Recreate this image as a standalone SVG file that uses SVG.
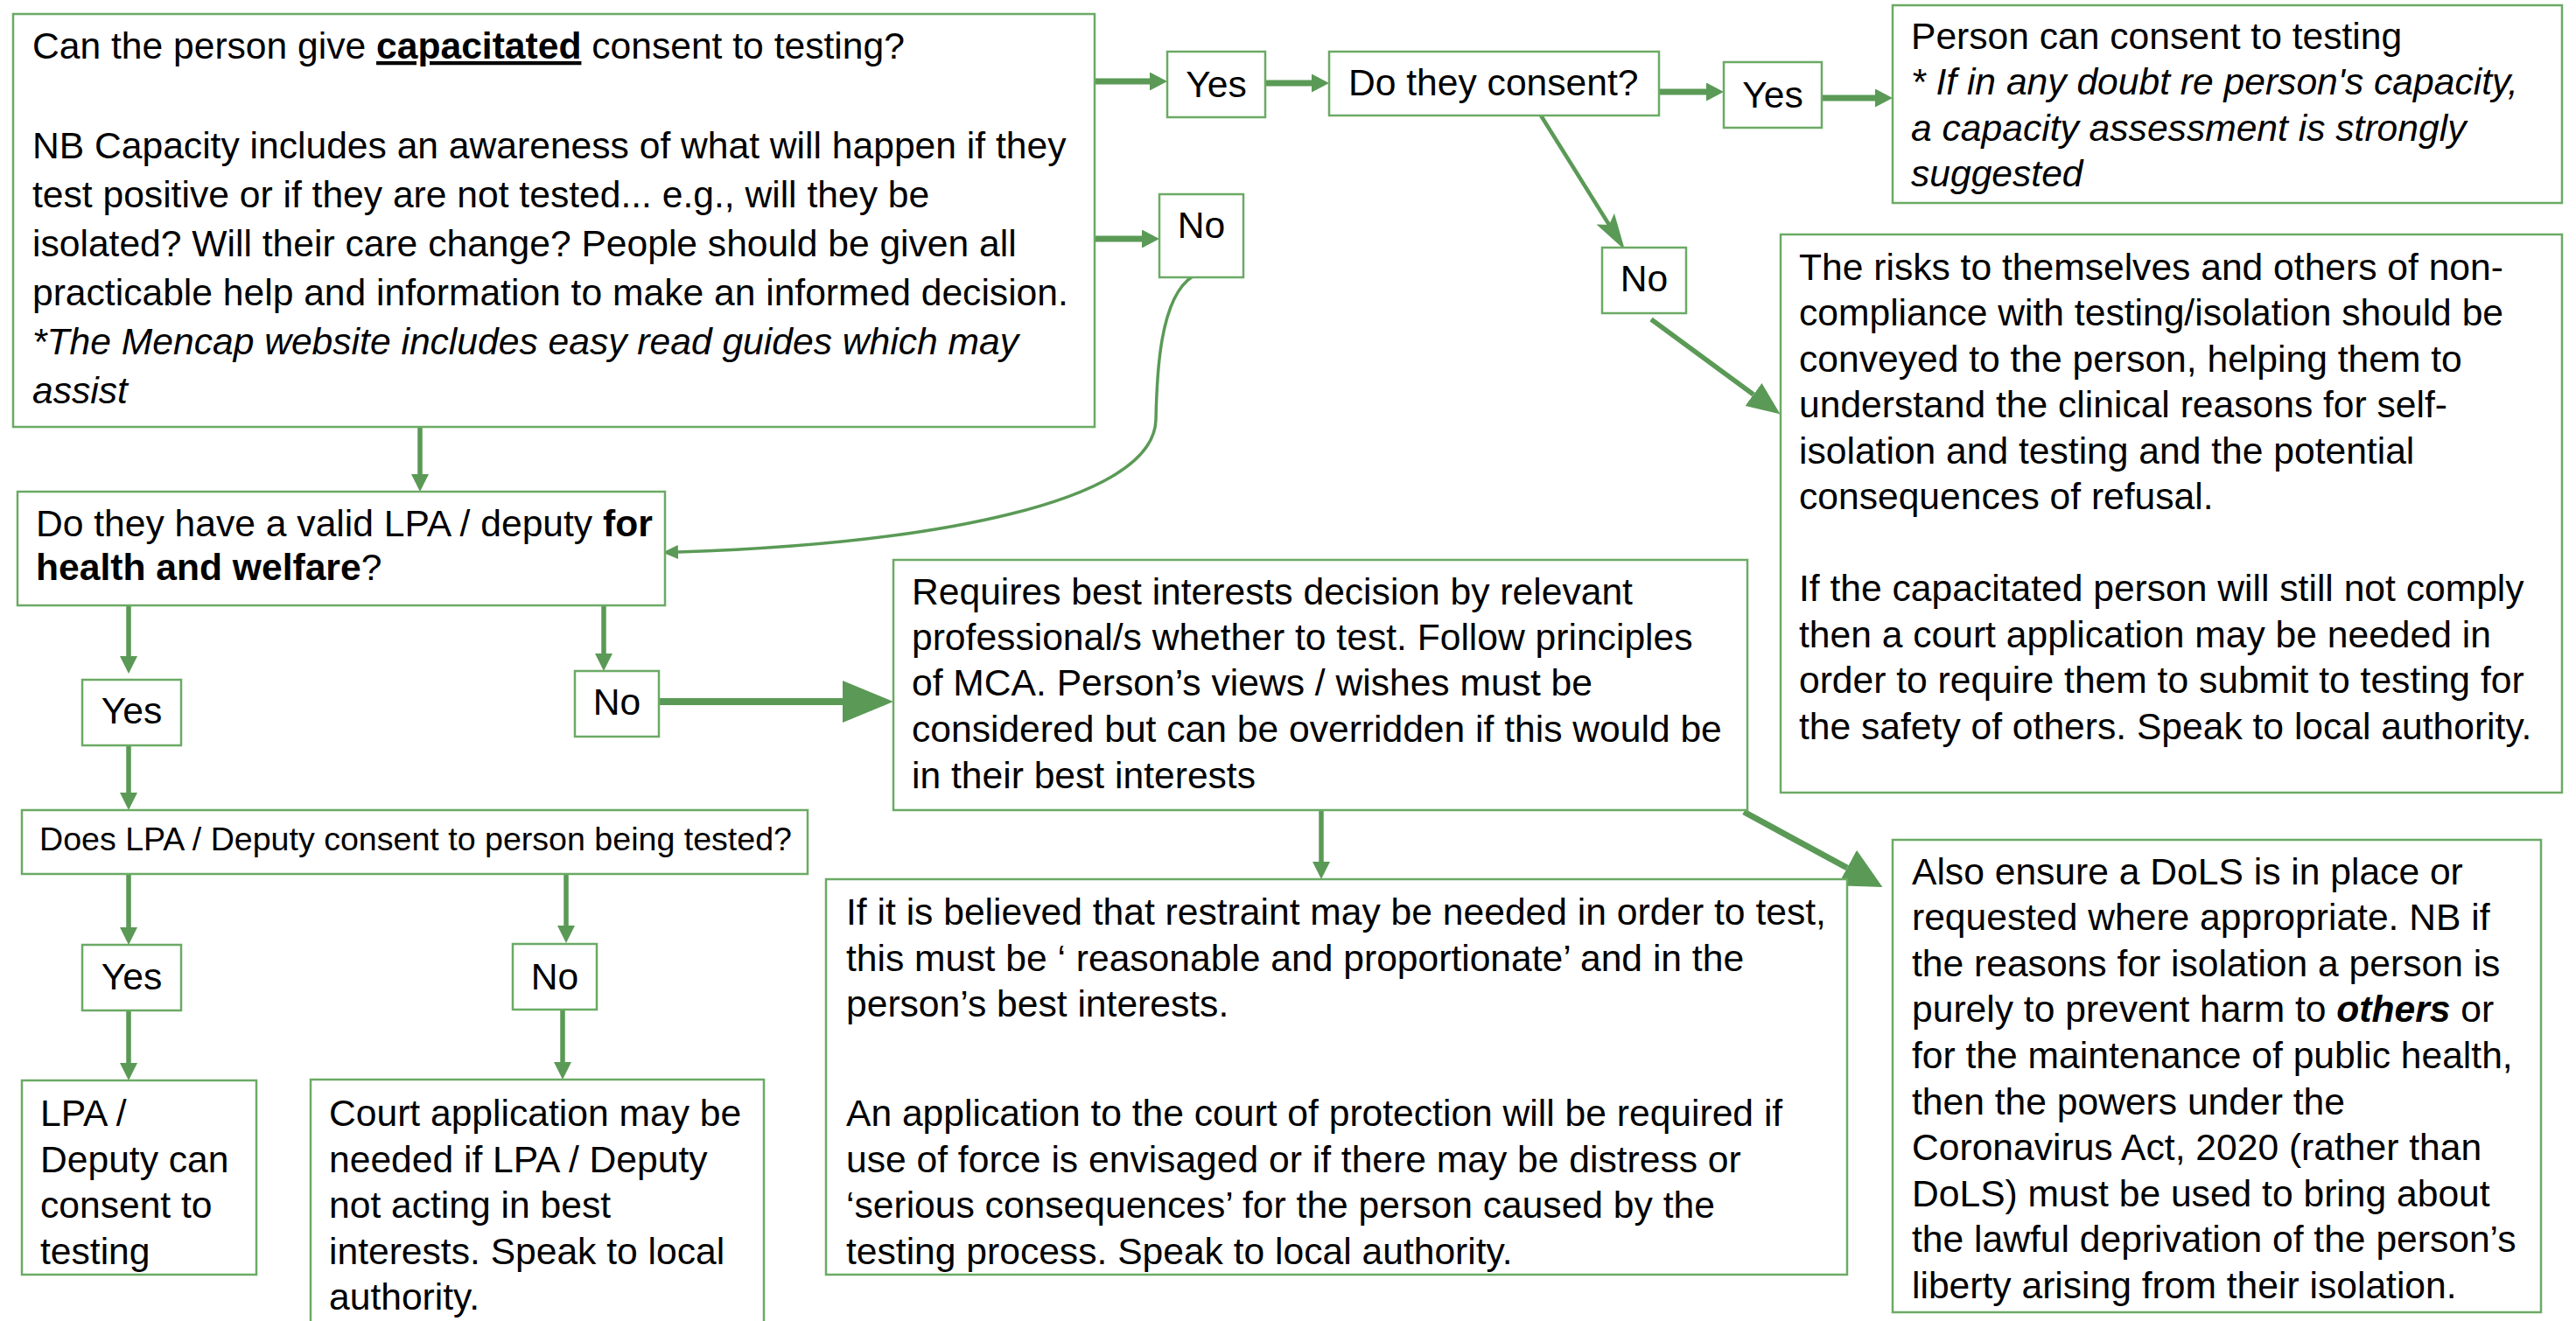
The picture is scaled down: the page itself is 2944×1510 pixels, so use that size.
<svg xmlns="http://www.w3.org/2000/svg" width="2944" height="1510" viewBox="0 0 2944 1510">
<style>
.bx{fill:#fff;stroke:#6BAA65;stroke-width:2.5}
.t{font-family:"Liberation Sans",Arial,sans-serif;font-size:42.6px;fill:#000}
.s{font-size:37.6px}
.c{stroke:#5A9A56;fill:none}
.b{font-weight:bold}
.i{font-style:italic}
</style>
<defs>
<marker id="aTop" markerUnits="userSpaceOnUse" viewBox="0 0 20 21" markerWidth="20" markerHeight="21" refX="0" refY="10.5" orient="auto"><path d="M0,0 L20,10.5 L0,21 z" fill="#5A9A56"/></marker>
<marker id="aV" markerUnits="userSpaceOnUse" viewBox="0 0 20 20" markerWidth="20" markerHeight="20" refX="0" refY="10" orient="auto"><path d="M0,0 L20,10 L0,20 z" fill="#5A9A56"/></marker>
<marker id="aBig" markerUnits="userSpaceOnUse" viewBox="0 0 58 48" markerWidth="58" markerHeight="48" refX="0" refY="24" orient="auto"><path d="M0,0 L58,24 L0,48 z" fill="#5A9A56"/></marker>
<marker id="aDols" markerUnits="userSpaceOnUse" viewBox="0 0 46 46" markerWidth="46" markerHeight="46" refX="0" refY="23" orient="auto"><path d="M0,0 L46,23 L0,46 z" fill="#5A9A56"/></marker>
<marker id="aRisk" markerUnits="userSpaceOnUse" viewBox="0 0 38 32" markerWidth="38" markerHeight="32" refX="0" refY="16" orient="auto"><path d="M0,0 L38,16 L0,32 z" fill="#5A9A56"/></marker>
<marker id="aKite" markerUnits="userSpaceOnUse" viewBox="0 0 42 24" markerWidth="42" markerHeight="24" refX="8" refY="12" orient="auto"><path d="M0,0 L42,12 L0,24 L8,12 z" fill="#5A9A56"/></marker>
<marker id="aCurve" markerUnits="userSpaceOnUse" viewBox="0 0 18 16" markerWidth="18" markerHeight="16" refX="0" refY="8" orient="auto"><path d="M0,0 L18,8 L0,16 z" fill="#5A9A56"/></marker>
</defs>

<g id="connectors">
<line class="c" x1="1251" y1="93" x2="1314" y2="93" stroke-width="7" marker-end="url(#aTop)"/>
<line class="c" x1="1251" y1="273" x2="1305" y2="273" stroke-width="7" marker-end="url(#aTop)"/>
<line class="c" x1="1446" y1="95" x2="1499" y2="95" stroke-width="7" marker-end="url(#aTop)"/>
<line class="c" x1="1896" y1="105" x2="1950" y2="105" stroke-width="7" marker-end="url(#aTop)"/>
<line class="c" x1="2082" y1="112" x2="2143" y2="112" stroke-width="7" marker-end="url(#aTop)"/>
<line class="c" x1="1761" y1="132" x2="1839" y2="257" stroke-width="4.5" marker-end="url(#aKite)"/>
<line class="c" x1="1887" y1="365" x2="2004" y2="451" stroke-width="5.5" marker-end="url(#aRisk)"/>
<path class="c" d="M1363,316 C1325,340 1322,430 1321,480 C1318,575 1060,622 775,631" stroke-width="3.5" marker-end="url(#aCurve)"/>
<line class="c" x1="480" y1="488" x2="480" y2="542" stroke-width="5.5" marker-end="url(#aV)"/>
<line class="c" x1="147" y1="692" x2="147" y2="750" stroke-width="5.5" marker-end="url(#aV)"/>
<line class="c" x1="690" y1="692" x2="690" y2="747" stroke-width="5.5" marker-end="url(#aV)"/>
<line class="c" x1="753" y1="802" x2="963" y2="802" stroke-width="8" marker-end="url(#aBig)"/>
<line class="c" x1="147" y1="852" x2="147" y2="906" stroke-width="5.5" marker-end="url(#aV)"/>
<line class="c" x1="147" y1="1000" x2="147" y2="1060" stroke-width="5.5" marker-end="url(#aV)"/>
<line class="c" x1="647" y1="1000" x2="647" y2="1058" stroke-width="5.5" marker-end="url(#aV)"/>
<line class="c" x1="147" y1="1155" x2="147" y2="1215" stroke-width="5.5" marker-end="url(#aV)"/>
<line class="c" x1="643" y1="1154" x2="643" y2="1214" stroke-width="5.5" marker-end="url(#aV)"/>
<line class="c" x1="1510" y1="926" x2="1510" y2="985" stroke-width="5.5" marker-end="url(#aV)"/>
<line class="c" x1="1993" y1="928" x2="2111" y2="992" stroke-width="7" marker-end="url(#aDols)"/>
</g>

<g id="capacity-question">
<rect class="bx" x="15" y="16" width="1236" height="472"/>
<text class="t">
<tspan x="37" y="67">Can the person give <tspan class="b" text-decoration="underline">capacitated</tspan> consent to testing?</tspan>
<tspan x="37" y="181">NB Capacity includes an awareness of what will happen if they</tspan>
<tspan x="37" y="237">test positive or if they are not tested... e.g., will they be</tspan>
<tspan x="37" y="293">isolated? Will their care change? People should be given all</tspan>
<tspan x="37" y="349">practicable help and information to make an informed decision.</tspan>
<tspan x="37" y="405" class="i">*The Mencap website includes easy read guides which may</tspan>
<tspan x="37" y="461" class="i">assist</tspan>
</text>
</g>

<g id="yes1"><rect class="bx" x="1334" y="59" width="112" height="75"/><text class="t" x="1390" y="111" text-anchor="middle">Yes</text></g>
<g id="no1"><rect class="bx" x="1325" y="222" width="96" height="95"/><text class="t" x="1373" y="272" text-anchor="middle">No</text></g>
<g id="consent-question"><rect class="bx" x="1519" y="59" width="377" height="73"/><text class="t" x="1541" y="109">Do they consent?</text></g>
<g id="yes2"><rect class="bx" x="1970" y="71" width="112" height="75"/><text class="t" x="2026" y="123" text-anchor="middle">Yes</text></g>
<g id="no2"><rect class="bx" x="1831" y="283" width="96" height="75"/><text class="t" x="1879" y="333" text-anchor="middle">No</text></g>

<g id="person-can-consent">
<rect class="bx" x="2163" y="6" width="765" height="226"/>
<text class="t">
<tspan x="2184" y="56">Person can consent to testing</tspan>
<tspan x="2184" y="108" class="i">* If in any doubt re person's capacity,</tspan>
<tspan x="2184" y="161" class="i">a capacity assessment is strongly</tspan>
<tspan x="2184" y="213" class="i">suggested</tspan>
</text>
</g>

<g id="risks">
<rect class="bx" x="2035" y="268" width="893" height="638"/>
<text class="t">
<tspan x="2056" y="320">The risks to themselves and others of non-</tspan>
<tspan x="2056" y="372">compliance with testing/isolation should be</tspan>
<tspan x="2056" y="425">conveyed to the person, helping them to</tspan>
<tspan x="2056" y="477">understand the clinical reasons for self-</tspan>
<tspan x="2056" y="530">isolation and testing and the potential</tspan>
<tspan x="2056" y="582">consequences of refusal.</tspan>
<tspan x="2056" y="687">If the capacitated person will still not comply</tspan>
<tspan x="2056" y="740">then a court application may be needed in</tspan>
<tspan x="2056" y="792">order to require them to submit to testing for</tspan>
<tspan x="2056" y="845">the safety of others. Speak to local authority.</tspan>
</text>
</g>

<g id="lpa-question">
<rect class="bx" x="20" y="562" width="740" height="130"/>
<text class="t">
<tspan x="41" y="613">Do they have a valid LPA / deputy <tspan class="b">for</tspan></tspan>
<tspan x="41" y="663"><tspan class="b">health and welfare</tspan>?</tspan>
</text>
</g>

<g id="yes3"><rect class="bx" x="94" y="777" width="113" height="75"/><text class="t" x="150.5" y="827" text-anchor="middle">Yes</text></g>
<g id="no3"><rect class="bx" x="657" y="767" width="96" height="75"/><text class="t" x="705" y="817" text-anchor="middle">No</text></g>

<g id="best-interests">
<rect class="bx" x="1021" y="640" width="976" height="286"/>
<text class="t">
<tspan x="1042" y="691">Requires best interests decision by relevant</tspan>
<tspan x="1042" y="743">professional/s whether to test. Follow principles</tspan>
<tspan x="1042" y="795">of MCA. Person’s views / wishes must be</tspan>
<tspan x="1042" y="848">considered but can be overridden if this would be</tspan>
<tspan x="1042" y="901">in their best interests</tspan>
</text>
</g>

<g id="lpa-consent-question">
<rect class="bx" x="25" y="926" width="898" height="73"/>
<text class="t s" x="45" y="972">Does LPA / Deputy consent to person being tested?</text>
</g>

<g id="yes4"><rect class="bx" x="94" y="1080" width="113" height="75"/><text class="t" x="150.5" y="1131" text-anchor="middle">Yes</text></g>
<g id="no4"><rect class="bx" x="586" y="1079" width="96" height="75"/><text class="t" x="634" y="1131" text-anchor="middle">No</text></g>

<g id="lpa-can-consent">
<rect class="bx" x="25" y="1235" width="268" height="222"/>
<text class="t">
<tspan x="46" y="1287">LPA /</tspan>
<tspan x="46" y="1340">Deputy can</tspan>
<tspan x="46" y="1392">consent to</tspan>
<tspan x="46" y="1445">testing</tspan>
</text>
</g>

<g id="court-application">
<rect class="bx" x="355" y="1234" width="518" height="290"/>
<text class="t">
<tspan x="376" y="1287">Court application may be</tspan>
<tspan x="376" y="1340">needed if LPA / Deputy</tspan>
<tspan x="376" y="1392">not acting in best</tspan>
<tspan x="376" y="1445">interests. Speak to local</tspan>
<tspan x="376" y="1497">authority.</tspan>
</text>
</g>

<g id="restraint">
<rect class="bx" x="944" y="1005" width="1167" height="452"/>
<text class="t">
<tspan x="967" y="1057">If it is believed that restraint may be needed in order to test,</tspan>
<tspan x="967" y="1110">this must be ‘ reasonable and proportionate’ and in the</tspan>
<tspan x="967" y="1162">person’s best interests.</tspan>
<tspan x="967" y="1287">An application to the court of protection will be required if</tspan>
<tspan x="967" y="1340">use of force is envisaged or if there may be distress or</tspan>
<tspan x="967" y="1392">‘serious consequences’ for the person caused by the</tspan>
<tspan x="967" y="1445">testing process. Speak to local authority.</tspan>
</text>
</g>

<g id="dols">
<rect class="bx" x="2163" y="960" width="741" height="540"/>
<text class="t">
<tspan x="2185" y="1011">Also ensure a DoLS is in place or</tspan>
<tspan x="2185" y="1063">requested where appropriate. NB if</tspan>
<tspan x="2185" y="1116">the reasons for isolation a person is</tspan>
<tspan x="2185" y="1168">purely to prevent harm to <tspan class="b i">others</tspan> or</tspan>
<tspan x="2185" y="1221">for the maintenance of public health,</tspan>
<tspan x="2185" y="1274">then the powers under the</tspan>
<tspan x="2185" y="1326">Coronavirus Act, 2020 (rather than</tspan>
<tspan x="2185" y="1379">DoLS) must be used to bring about</tspan>
<tspan x="2185" y="1431">the lawful deprivation of the person’s</tspan>
<tspan x="2185" y="1484">liberty arising from their isolation.</tspan>
</text>
</g>
</svg>
